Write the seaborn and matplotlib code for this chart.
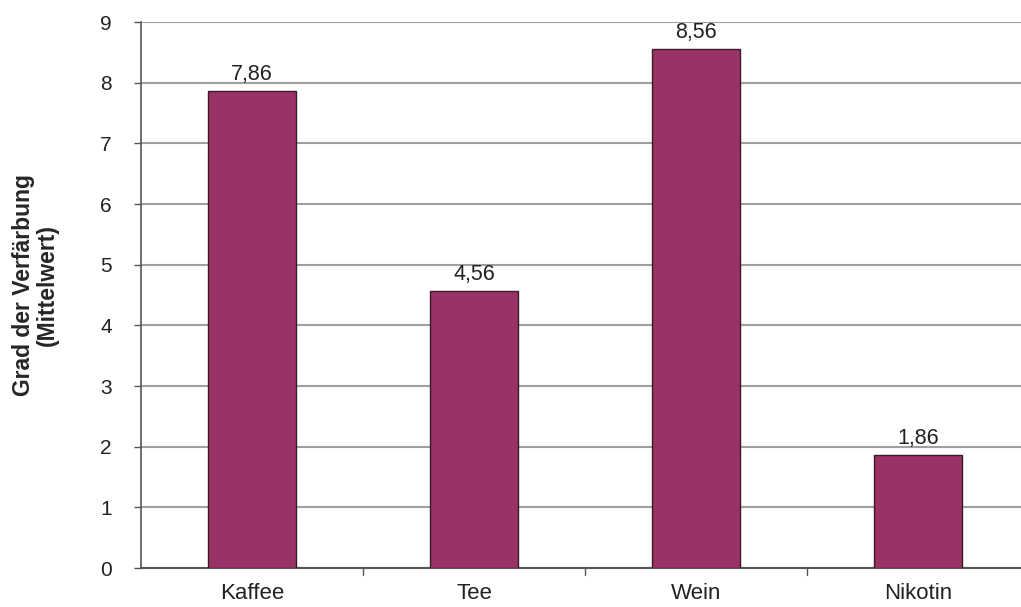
import matplotlib
matplotlib.use("Agg")
import matplotlib.pyplot as plt
import seaborn as sns
import pandas as pd

categories = ["Kaffee", "Tee", "Wein", "Nikotin"]
values = [7.86, 4.56, 8.56, 1.86]
value_labels = ["7,86", "4,56", "8,56", "1,86"]
y_ticks = list(range(0, 10))

sns.set_theme(style="white")
plt.rcParams['font.family'] = ['Liberation Sans', 'DejaVu Sans']

df = pd.DataFrame({"cat": categories, "val": values})

fig = plt.figure(figsize=(10.21, 6.07), dpi=100)
ax = fig.add_axes([141/1021, 39/607, 880/1021, 546/607])

sns.barplot(data=df, x="cat", y="val", color="#993366", saturation=1, width=0.4,
            edgecolor="#3a1a28", linewidth=1.0, ax=ax, zorder=3)

ax.set_ylim(0, 9)
ax.set_xlim(-0.5, 3.464)
ax.set_yticks(y_ticks)
ax.set_yticklabels([str(t) for t in y_ticks], fontsize=15, color="#222222")
ax.yaxis.grid(True, color="#a0a0a0", linewidth=1.5, zorder=0)
ax.set_axisbelow(True)

ax.set_xticks([0, 1, 2, 3])
ax.set_xticklabels(categories, fontsize=16, color="#222222")
ax.tick_params(axis="x", length=0, pad=11)
ax.tick_params(axis="y", length=5, width=1, color="#555555", direction="out", left=True, pad=16)
for xb in [0.5, 1.5, 2.5]:
    ax.plot([xb, xb], [0, -0.12], color="#555555", lw=1, clip_on=False)

for s in ["top", "right"]:
    ax.spines[s].set_visible(False)
ax.spines["left"].set_color("#555555")
ax.spines["bottom"].set_color("#555555")
ax.spines["left"].set_linewidth(1.2)
ax.spines["bottom"].set_linewidth(1.5)

for i, (v, lab) in enumerate(zip(values, value_labels)):
    ax.text(i, v + 0.1, lab, ha="center", va="bottom", fontsize=15.5, color="#222222")

ax.set_xlabel("")
ax.set_ylabel("Grad der Verfärbung\n(Mittelwert)", fontsize=16.5, fontweight="bold", linespacing=1.05)
ax.yaxis.set_label_coords(-82/880, 0.518)

fig.savefig("out.png", dpi=100)
